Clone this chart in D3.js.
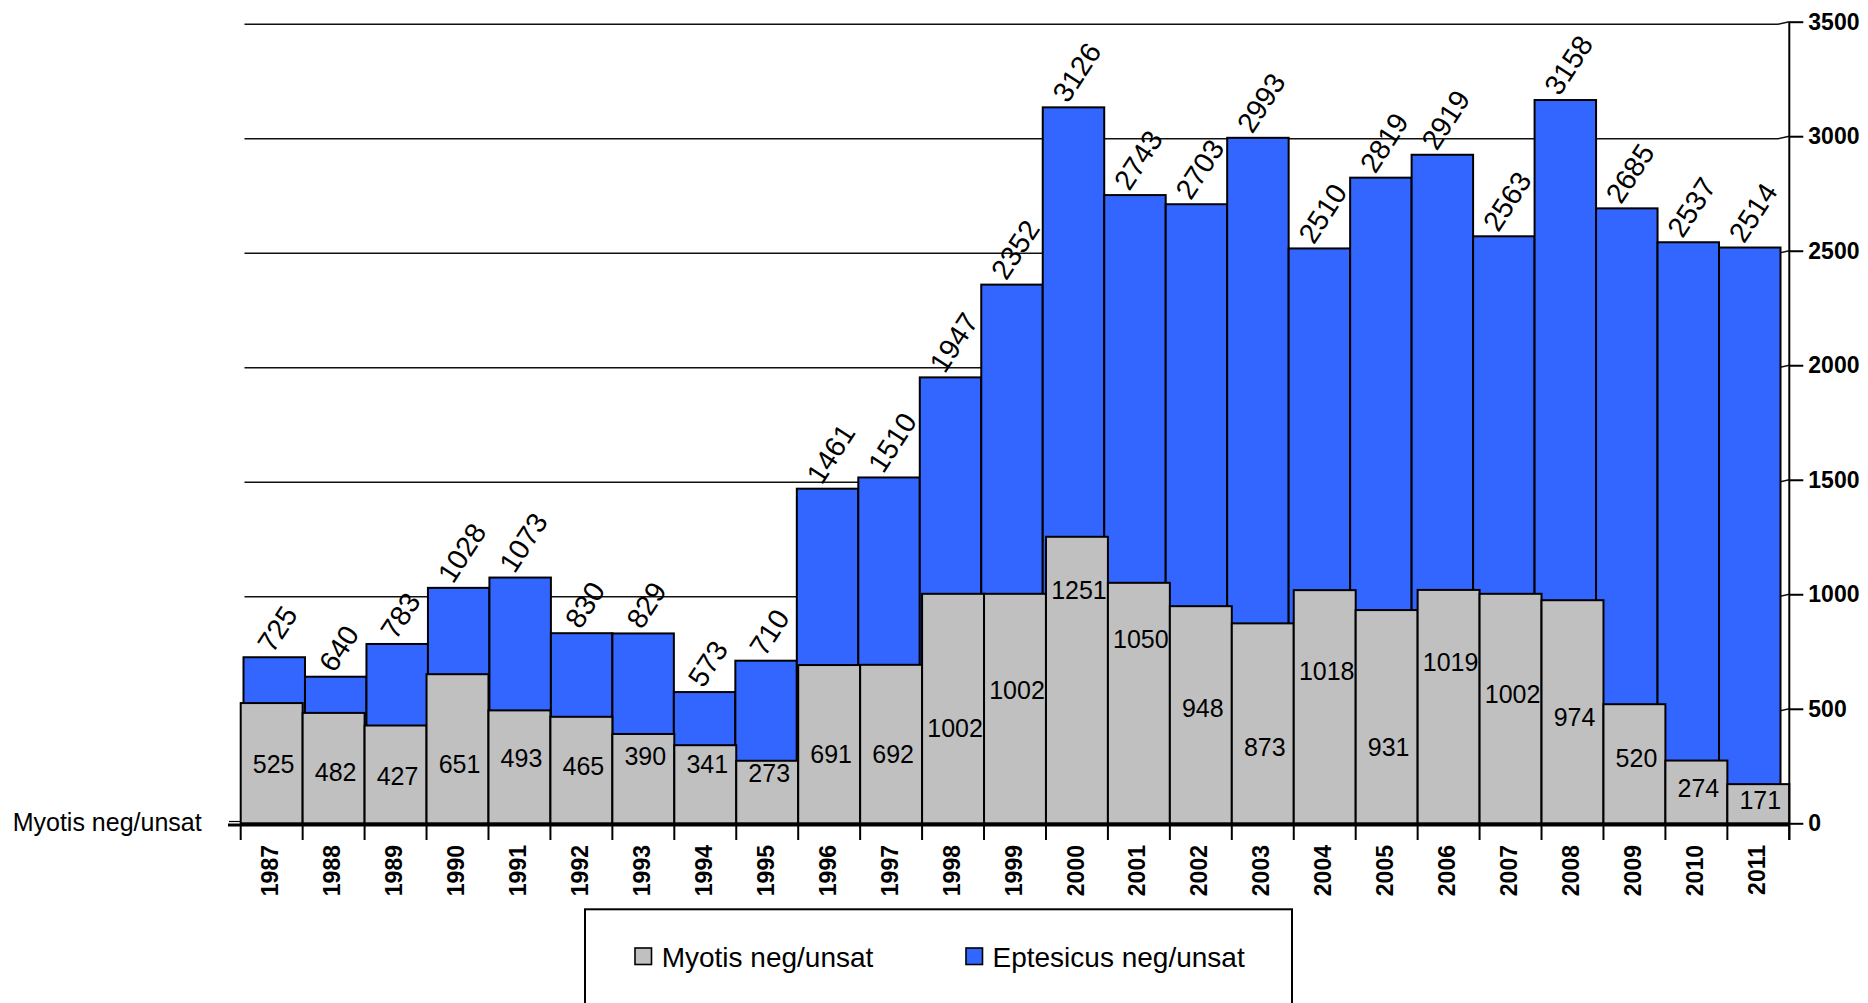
<!DOCTYPE html>
<html>
<head>
<meta charset="utf-8">
<script src="https://cdn.jsdelivr.net/npm/d3@7"></script>
<style>
  html, body { margin: 0; padding: 0; background: #fff; }
  svg { display: block; font-family: "Liberation Sans", Arial, sans-serif; }
</style>
</head>
<body>
<svg id="chart" width="1868" height="1003"></svg>
<script>
// ---- data ----
const years = ["1987","1988","1989","1990","1991","1992","1993","1994","1995","1996","1997","1998","1999","2000","2001","2002","2003","2004","2005","2006","2007","2008","2009","2010","2011"];
const eptesicus = [725,640,783,1028,1073,830,829,573,710,1461,1510,1947,2352,3126,2743,2703,2993,2510,2819,2919,2563,3158,2685,2537,2514];
const myotis = [525,482,427,651,493,465,390,341,273,691,692,1002,1002,1251,1050,948,873,1018,931,1019,1002,974,520,274,171];
// where each Myotis label sits, read on the value axis
const myotisLabelAt = [260,222,204,260,283,251,291,260,220,303,303,415,583,1016,802,504,332,664,332,702,562,463,284,151,102];
const yTicks = [0,500,1000,1500,2000,2500,3000,3500];
const seriesNames = ["Myotis neg/unsat","Eptesicus neg/unsat"];
const seriesColors = ["#C0C0C0","#3366FF"];

// ---- scales ----
const svg = d3.select("#chart");
const xFront = d3.scaleBand().domain(years).range([240.7, 1789.3]).padding(0);
const xBack = d3.scaleBand().domain(years).range([243.5, 1780.5]).padding(0);
const y = d3.scaleLinear().domain([0, 3500]).range([823.3, 21.7]);

// ---- gridlines (with slight perspective bend at the wall) ----
const grid = svg.append("g");
yTicks.filter(v => v > 0).forEach(v => {
  grid.append("path")
    .attr("d", `M244.5,${y(v) + 2.5} L1778,${y(v) + 2.5} L1789.3,${y(v)}`)
    .attr("fill", "none").attr("stroke", "#111").attr("stroke-width", 1.6);
});

// ---- back series (Eptesicus) ----
svg.append("g").selectAll("rect").data(eptesicus).join("rect")
  .attr("x", (d, i) => xBack(years[i]))
  .attr("width", xBack.bandwidth())
  .attr("y", d => y(d))
  .attr("height", d => y(0) - y(d))
  .attr("fill", seriesColors[1]).attr("stroke", "#000").attr("stroke-width", 2);

// ---- front series (Myotis) ----
svg.append("g").selectAll("rect").data(myotis).join("rect")
  .attr("x", (d, i) => xFront(years[i]))
  .attr("width", xFront.bandwidth())
  .attr("y", d => y(d))
  .attr("height", d => y(0) - y(d))
  .attr("fill", seriesColors[0]).attr("stroke", "#000").attr("stroke-width", 2);

// ---- baseline and left stub ----
svg.append("line").attr("x1", 228).attr("x2", 1789.3).attr("y1", 825).attr("y2", 825)
  .attr("stroke", "#000").attr("stroke-width", 3);
svg.append("line").attr("x1", 229).attr("x2", 241).attr("y1", 821.5).attr("y2", 821.5)
  .attr("stroke", "#000").attr("stroke-width", 1.2);

// ---- x ticks at band boundaries ----
const bounds = years.map(yr => xFront(yr)).concat([xFront.range()[1]]);
svg.append("g").selectAll("line").data(bounds).join("line")
  .attr("x1", d => d).attr("x2", d => d).attr("y1", 825).attr("y2", 840)
  .attr("stroke", "#000").attr("stroke-width", 2);

// ---- x axis labels ----
const xAxis = svg.append("g").attr("transform", "translate(0,845)")
  .call(d3.axisBottom(xFront).tickSize(0).tickPadding(0));
xAxis.select(".domain").remove();
xAxis.selectAll("text")
  .attr("transform", "translate(-1.5,0) rotate(-90)")
  .attr("x", 0).attr("y", 0).attr("dy", "0.35em")
  .attr("text-anchor", "end")
  .attr("font-family", "Liberation Sans, Arial, sans-serif")
  .attr("font-size", 23).attr("font-weight", "bold").attr("fill", "#000");

// ---- right value axis ----
const yAxis = svg.append("g").attr("transform", "translate(1789.3,0)")
  .call(d3.axisRight(y).tickValues(yTicks).tickFormat(d3.format("d"))
    .tickSize(14).tickSizeOuter(0).tickPadding(5));
yAxis.select(".domain").attr("d", `M0,${y(3500)}V840`).attr("stroke", "#000").attr("stroke-width", 2);
yAxis.selectAll(".tick line").attr("stroke", "#000").attr("stroke-width", 2);
yAxis.selectAll("text")
  .attr("font-family", "Liberation Sans, Arial, sans-serif")
  .attr("font-size", 23).attr("font-weight", "bold").attr("fill", "#000");

// ---- Myotis value labels ----
svg.append("g").selectAll("text").data(myotis).join("text")
  .attr("x", (d, i) => xFront(years[i]) + xFront.bandwidth() / 2 + 2)
  .attr("y", (d, i) => y(myotisLabelAt[i]))
  .attr("dy", "0.35em")
  .attr("text-anchor", "middle")
  .attr("font-size", 25).attr("fill", "#000")
  .text(d => d);

// ---- Eptesicus value labels (rotated) ----
const ang = 57, rad = ang * Math.PI / 180, fs = 28.5, capH = 0.716 * fs;
const eg = svg.append("g");
eptesicus.forEach((d, i) => {
  const t = eg.append("text").attr("font-size", fs).attr("fill", "#000").text(d);
  const L = t.node().getComputedTextLength();
  const cx = xBack(years[i]) + xBack.bandwidth() / 2 + 3;
  const sx = cx - (L * Math.cos(rad) - capH * Math.sin(rad)) / 2;
  const sy = y(d) - 3;
  t.attr("transform", `translate(${sx},${sy}) rotate(${-ang})`);
});

// ---- series axis label on the left ----
svg.append("text").attr("x", 12.7).attr("y", 831)
  .attr("font-size", 25).attr("fill", "#000").text(seriesNames[0]);

// ---- legend ----
const lg = svg.append("g");
lg.append("rect").attr("x", 585).attr("y", 909.3).attr("width", 707).attr("height", 120)
  .attr("fill", "#fff").attr("stroke", "#000").attr("stroke-width", 2);
const legendX = [635, 966];
const textX = [661.7, 992.5];
seriesNames.forEach((name, i) => {
  lg.append("rect").attr("x", legendX[i]).attr("y", 948).attr("width", 16.5).attr("height", 16.5)
    .attr("fill", seriesColors[i]).attr("stroke", "#000").attr("stroke-width", 1.6);
  lg.append("text").attr("x", textX[i]).attr("y", 966.5)
    .attr("font-size", 28).attr("fill", "#000").text(name);
});
</script>
</body>
</html>
